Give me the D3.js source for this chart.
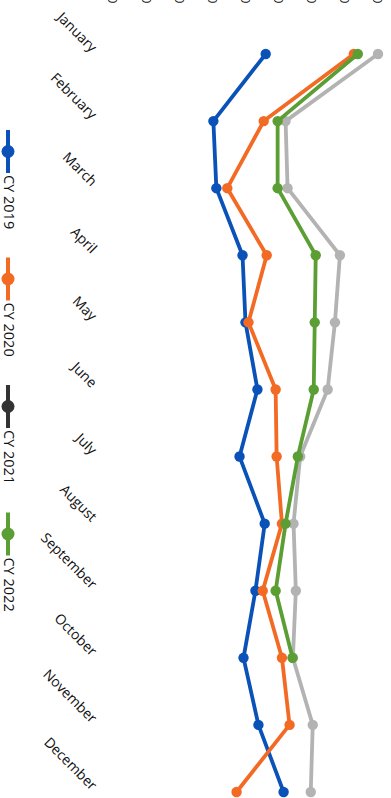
<!DOCTYPE html>
<html><head><meta charset="utf-8">
<script src="https://cdn.jsdelivr.net/npm/d3@7"></script>
<style>html,body{margin:0;padding:0;background:#fff;overflow:hidden}</style>
</head><body><svg id="c" width="391" height="798"></svg>
<script>
const months = ["January","February","March","April","May","June","July","August","September","October","November","December"];
const seriesNames = ["CY 2019","CY 2020","CY 2021","CY 2022"];
const cy2019 = [46.1,30.3,31.2,39.1,40.0,43.6,38.2,45.8,43.0,39.4,43.9,51.5];
const cy2020 = [72.7,45.5,34.5,46.4,40.9,49.1,49.4,51.0,45.2,51.0,53.3,37.3];
const cy2021 = [80.0,52.1,52.7,68.5,67.0,64.8,56.5,54.5,55.2,54.3,60.3,59.7];
const cy2022 = [73.9,49.7,49.7,61.2,60.9,60.6,55.8,52.1,49.1,54.2,null,null];
const valueTicks = [0,10,20,30,40,50,60,70,80];
const lineColors = ["#0b52b8","#f26a24","#b3b3b3","#5b9e34"];
const legendColors = ["#0b52b8","#f26a24","#333333","#5b9e34"];

const svg = d3.select("#c");
const y = d3.scalePoint().domain(months).range([54, 792]);
const x = d3.scaleLinear().domain([0, 80]).range([113, 378]);

// value axis tick labels (rotated, clipped at top)
svg.append("g").selectAll("text").data(valueTicks).join("text")
  .attr("transform", d => `translate(${x(d)},3.5) rotate(90)`)
  .attr("text-anchor", "end").attr("dy", "0.35em")
  .attr("font-family", "Open Sans, sans-serif").attr("font-size", 13)
  .attr("fill", "#111").text(d => d === 0 ? "0" : d3.format(",")(d * 1000));

// category labels
svg.append("g").selectAll("text").data(months).join("text")
  .attr("transform", d => `translate(91,${y(d) - 1}) rotate(45)`)
  .attr("text-anchor", "end")
  .attr("font-family", "Open Sans, sans-serif").attr("font-size", 14)
  .attr("fill", "#111").text(d => d);

// series
const data = [cy2019, cy2020, cy2021, cy2022];
const drawOrder = [2, 0, 1, 3];
const line = d3.line().defined(d => d != null)
  .x(d => x(d)).y((d, i) => y(months[i]));
drawOrder.forEach(s => {
  const g = svg.append("g");
  g.append("path").datum(data[s]).attr("d", line)
    .attr("fill", "none").attr("stroke", lineColors[s]).attr("stroke-width", 3.8)
    .attr("stroke-linejoin", "round");
  g.selectAll("circle").data(data[s].map((v, i) => ({v, i})).filter(d => d.v != null))
    .join("circle").attr("cx", d => x(d.v)).attr("cy", d => y(months[d.i]))
    .attr("r", 5.2).attr("fill", lineColors[s]);
});

// legend
const lg = svg.append("g");
seriesNames.forEach((n, i) => {
  const y0 = 130 + i * 127.5;
  lg.append("line").attr("x1", 8).attr("x2", 8).attr("y1", y0).attr("y2", y0 + 43)
    .attr("stroke", legendColors[i]).attr("stroke-width", 4);
  lg.append("circle").attr("cx", 8).attr("cy", y0 + 21.5).attr("r", 6.5).attr("fill", legendColors[i]);
  lg.append("text").attr("transform", `translate(9,${y0 + 45}) rotate(90)`)
    .attr("dy", "0.35em")
    .attr("font-family", "Open Sans, sans-serif").attr("font-size", 14.5)
    .attr("fill", "#111").text(n);
});
</script></body></html>
